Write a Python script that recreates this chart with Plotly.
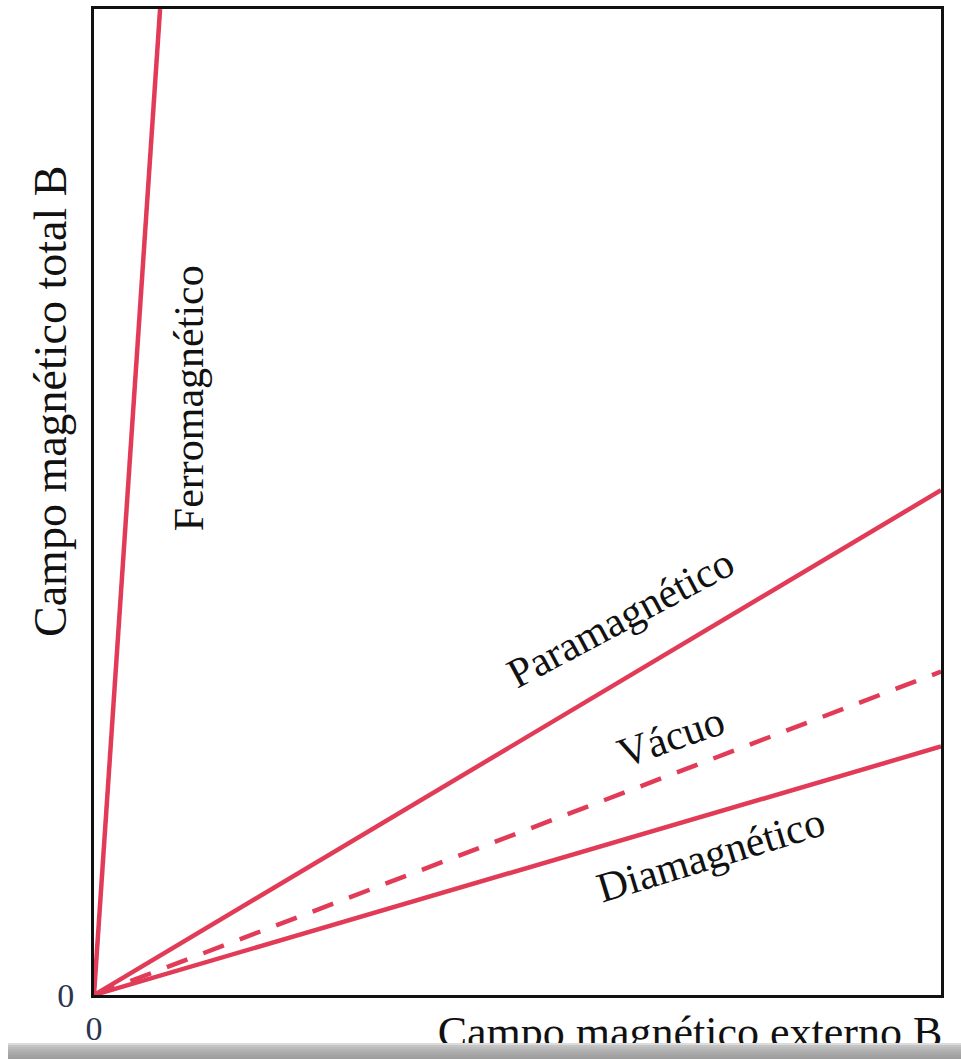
import plotly.graph_objects as go

# ---- data ----
campo_externo = [0.0, 1.0]
ferro_externo = [0.0, 0.078]
ferro_total = [0.0, 1.0]
para_total = [0.0, 0.512]
vacuo_total = [0.0, 0.328]
dia_total = [0.0, 0.252]
tick_vals = [0]
tick_text = ["0"]

RED = "#e23b57"
FONT = "Liberation Serif"

W, H = 961, 1059
PL, PR, PT, PB = 94, 941, 9, 995   # plot area in pixels

def px(x):
    return x / W

def py(y):
    return (H - y) / H

fig = go.Figure()
fig.add_trace(go.Scatter(x=ferro_externo, y=ferro_total, mode="lines",
                         line=dict(color=RED, width=4.5), hoverinfo="skip"))
fig.add_trace(go.Scatter(x=campo_externo, y=para_total, mode="lines",
                         line=dict(color=RED, width=4.5), hoverinfo="skip"))
fig.add_trace(go.Scatter(x=campo_externo, y=vacuo_total, mode="lines",
                         line=dict(color=RED, width=4.5, dash="22px,17px"), hoverinfo="skip"))
fig.add_trace(go.Scatter(x=campo_externo, y=dia_total, mode="lines",
                         line=dict(color=RED, width=4.5), hoverinfo="skip"))

# x-axis title drawn in a helper subplot below, so the bottom bar can overlap it
fig.add_trace(go.Scatter(x=[0.718], y=[0.36], mode="text", xaxis="x2", yaxis="y2",
                         text=["Campo magnético externo B"],
                         textfont=dict(family=FONT, size=44, color="#111111"),
                         hoverinfo="skip"))

ann_font = dict(family=FONT, size=42, color="#111111")
annotations = [
    dict(x=0.113, y=0.605, text="Ferromagnético", textangle=-90),
    dict(x=0.622, y=0.382, text="Paramagnético", textangle=-28),
    dict(x=0.681, y=0.262, text="Vácuo", textangle=-19),
    dict(x=0.728, y=0.142, text="Diamagnético", textangle=-17),
]
for a in annotations:
    a.update(xref="x", yref="y", showarrow=False, font=ann_font,
             xanchor="center", yanchor="middle")
annotations.append(dict(xref="paper", yref="paper", x=px(50), y=py(402),
                        text="Campo magnético total B", textangle=-90,
                        showarrow=False, font=dict(family=FONT, size=46, color="#111111"),
                        xanchor="center", yanchor="middle"))

# bottom gray bar (gradient approximated with bands)
shapes = []
band_cols = ["#dcdcdc", "#c4c4c4", "#bcbcbc", "#b4b4b4", "#adadad",
             "#a7a7a7", "#a2a2a2", "#9e9e9e"]
top, bottom = 1043, 1059
n = len(band_cols)
for i, c in enumerate(band_cols):
    y0 = top + (bottom - top) * i / n
    y1 = min(bottom, top + (bottom - top) * (i + 1) / n + 0.3)
    shapes.append(dict(type="rect", xref="paper", yref="paper",
                       x0=px(8), x1=1.0,
                       y0=py(y1), y1=py(y0),
                       fillcolor=c, line=dict(width=0), layer="above"))

fig.update_layout(
    width=W, height=H,
    margin=dict(l=0, r=0, t=0, b=0, autoexpand=False),
    paper_bgcolor="white", plot_bgcolor="white",
    showlegend=False,
    annotations=annotations,
    shapes=shapes,
    xaxis=dict(domain=[px(PL), px(PR)], range=[0, 1], showgrid=False, zeroline=False,
               showline=True, linecolor="#111111", linewidth=3, mirror=True,
               tickvals=tick_vals, ticktext=tick_text, ticks="", automargin=False,
               tickfont=dict(family=FONT, size=34, color="#2b3550"),
               ticklabelstandoff=1, fixedrange=True),
    yaxis=dict(domain=[py(PB), py(PT)], range=[0, 1], showgrid=False, zeroline=False,
               showline=True, linecolor="#111111", linewidth=3, mirror=True,
               tickvals=tick_vals, ticktext=tick_text, ticks="", automargin=False,
               tickfont=dict(family=FONT, size=34, color="#2b3550"),
               ticklabelstandoff=10, fixedrange=True),
    xaxis2=dict(domain=[0, 1], range=[0, 1], visible=False, anchor="y2",
                fixedrange=True, automargin=False),
    yaxis2=dict(domain=[0, py(PB)], range=[0, 1], visible=False, anchor="x2",
                fixedrange=True, automargin=False),
)

fig.write_html("out.html", config={"displayModeBar": False},
               post_script="document.body.style.margin='0';"
                           "document.body.style.overflow='hidden';"
                           "document.documentElement.style.overflow='hidden';")
